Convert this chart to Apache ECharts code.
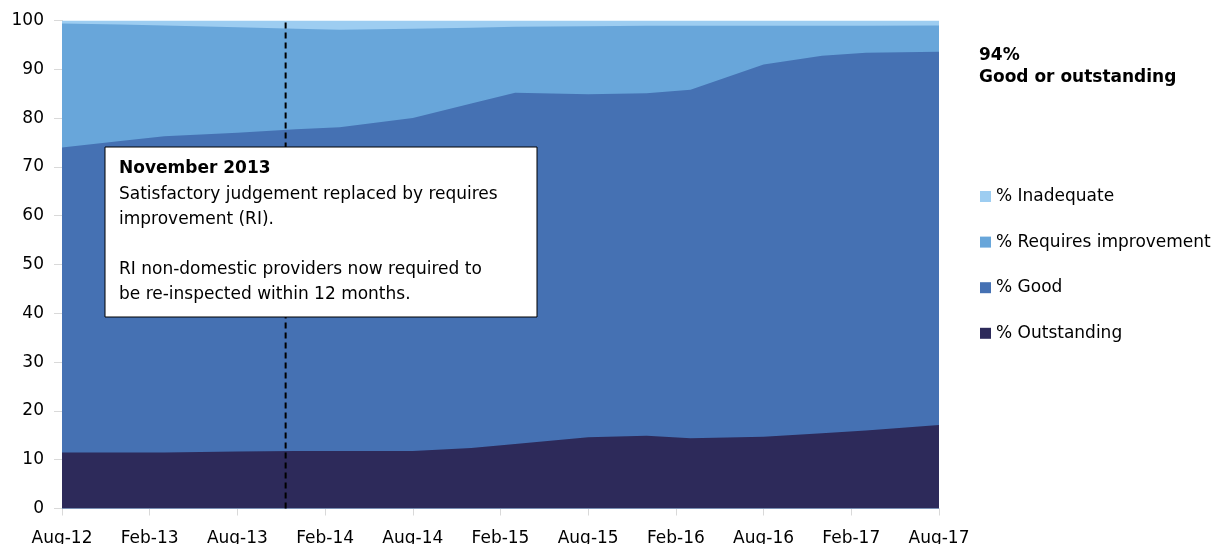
<!DOCTYPE html>
<html>
<head>
<meta charset="utf-8">
<script src="https://cdn.jsdelivr.net/npm/echarts@6/dist/echarts.min.js"></script>
<style>
html,body{margin:0;padding:0;background:#fff;}
#chart{width:1226px;height:544px;}
</style>
</head>
<body>
<div id="chart"></div>
<script>
// Data (percent of providers by judgement)
const dates = ['2012-08','2012-12','2013-03','2013-08','2013-12','2014-03','2014-08','2014-12','2015-03','2015-08','2015-12','2016-03','2016-08','2016-12','2017-03','2017-08'];
const outstanding = [11.5,11.5,11.5,11.7,11.8,11.8,11.8,12.4,13.2,14.6,14.9,14.4,14.7,15.4,16.0,17.1];
const good = [62.5,63.8,64.8,65.3,65.9,66.3,68.2,70.6,72.0,70.3,70.2,71.4,76.3,77.4,77.4,76.5];
const requiresImprovement = [25.4,23.9,22.7,21.6,20.6,20.0,18.3,15.5,13.5,13.9,13.8,13.1,7.9,6.1,5.5,5.4];
const inadequate = [0.6,0.8,1.0,1.4,1.7,1.9,1.7,1.5,1.3,1.2,1.1,1.1,1.1,1.1,1.1,1.0];
const xTickLabels = ['Aug-12','Feb-13','Aug-13','Feb-14','Aug-14','Feb-15','Aug-15','Feb-16','Aug-16','Feb-17','Aug-17'];
const noteMonth = 15.3; // November 2013 reference line (months after Aug-12)
const headline = ['94%', 'Good or outstanding'];
const noteTitle = 'November 2013';
const noteLines = ['Satisfactory judgement replaced by requires', 'improvement (RI).', '', 'RI non-domestic providers now required to', 'be re-inspected within 12 months.'];

const FONT = 'DejaVu Sans';
function monthIndex(s){ const [y,m] = s.split('-').map(Number); return (y-2012)*12 + (m-8); }
const xs = dates.map(monthIndex);

// stack manually (bottom to top)
const layers = [
  {name:'% Outstanding', values:outstanding, color:'#2D2A5A'},
  {name:'% Good', values:good, color:'#4571B3'},
  {name:'% Requires improvement', values:requiresImprovement, color:'#68A6DA'},
  {name:'% Inadequate', values:inadequate, color:'#9DCDF1'}
];
let running = xs.map(()=>0);
layers.forEach(l => {
  running = running.map((r,i)=> r + l.values[i]);
  l.cum = running.map((v,i)=>[xs[i], +v.toFixed(3)]);
});

// draw top layer first so lower layers paint over it
const series = layers.slice().reverse().map((l, k) => ({
  name:l.name, type:'line', data:l.cum,
  showSymbol:false, symbol:'none', smooth:false,
  lineStyle:{width:0, color:l.color}, itemStyle:{color:l.color},
  areaStyle:{color:l.color, opacity:1, origin:'start'},
  emphasis:{disabled:true}, silent:true, z:2+k
}));
// dashed reference line (November 2013)
series.push({
  name:'ref', type:'line', data:[[noteMonth,0],[noteMonth,100]],
  showSymbol:false, symbol:'none', silent:true, z:20,
  lineStyle:{color:'#000', type:[6,4], width:2}, emphasis:{disabled:true}
});

const chart = echarts.init(document.getElementById('chart'), null, {renderer:'canvas'});
chart.setOption({
  animation:false,
  backgroundColor:'#fff',
  textStyle:{fontFamily:FONT},
  grid:{left:62, right:287, top:20.5, bottom:35.5, containLabel:false, outerBoundsMode:'none'},
  xAxis:{
    type:'value', min:0, max:60, interval:6,
    axisLine:{show:true, lineStyle:{color:'#D9D9D9', width:1}},
    axisTick:{show:true, length:7, lineStyle:{color:'#D9D9D9'}},
    splitLine:{show:false},
    axisLabel:{margin:22, fontFamily:FONT, fontSize:17, color:'#000',
      formatter: v => xTickLabels[Math.round(v/6)] || ''}
  },
  yAxis:{
    type:'value', min:0, max:100, interval:10,
    axisLine:{show:true, lineStyle:{color:'#D9D9D9', width:1}},
    axisTick:{show:true, length:8, lineStyle:{color:'#D9D9D9'}},
    splitLine:{show:false},
    axisLabel:{margin:18, fontFamily:FONT, fontSize:17, color:'#000'}
  },
  legend:{
    orient:'vertical', left:980, top:186.5, padding:0,
    data:['% Inadequate','% Requires improvement','% Good','% Outstanding'],
    icon:'rect', itemWidth:11, itemHeight:11, itemGap:25.6,
    textStyle:{fontFamily:FONT, fontSize:17, color:'#000', lineHeight:20},
    selectedMode:false
  },
  series,
  graphic:[
    {type:'text', left:979, top:47, style:{text:headline[0], font:'bold 17px "DejaVu Sans"', fill:'#000'}},
    {type:'text', left:979, top:69, style:{text:headline[1], font:'bold 17px "DejaVu Sans"', fill:'#000'}},
    {type:'rect', z:100, shape:{x:105, y:147, width:432, height:170}, style:{fill:'#fff', stroke:'#000', lineWidth:1}},
    {type:'text', z:101, x:119, y:160, style:{text:noteTitle, font:'bold 17px "DejaVu Sans"', fill:'#000'}},
    {type:'text', z:101, x:119, y:182, style:{text:noteLines.join('\n'), font:'17px "DejaVu Sans"', fill:'#000', lineHeight:25}}
  ]
});
</script>
</body>
</html>
